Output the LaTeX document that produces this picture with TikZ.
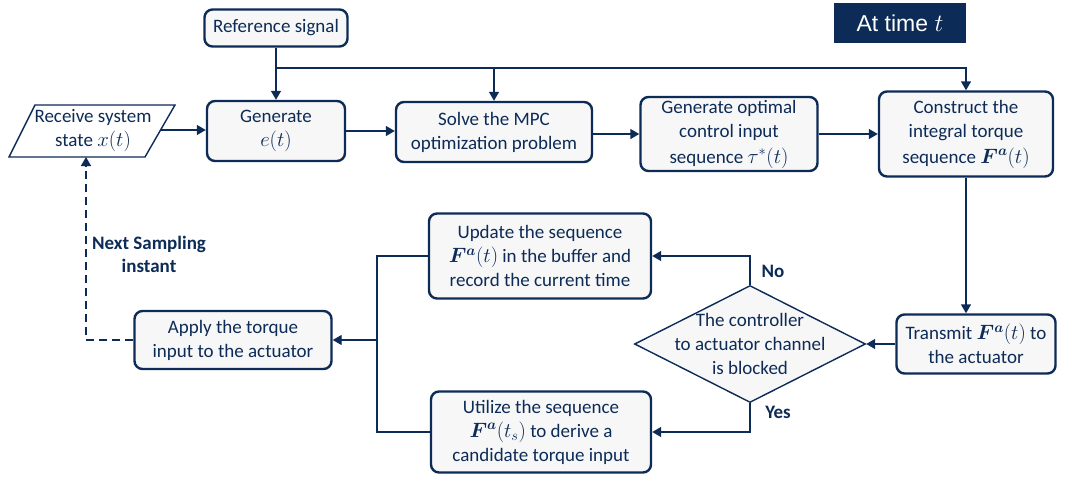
\documentclass[tikz,border=0pt]{standalone}
\usepackage{fontspec}
\setmainfont{Carlito}
\newfontfamily\headfont{Liberation Sans}
\usepackage{bm}
\usetikzlibrary{arrows.meta,shapes.geometric}
\definecolor{navy}{HTML}{0C2B57}
\definecolor{boxfill}{HTML}{F7F7F7}
% inline math set a little larger than the surrounding text
\newcommand{\mth}[1]{{\fontsize{21}{24}\selectfont$#1$}}
\newcommand{\Fa}{\bm{F}^{\bm{a}}}
\tikzset{
  box/.style={draw=navy, line width=2.4pt, rounded corners=8pt, fill=boxfill,
    align=center, text=navy, inner sep=0pt},
  conn/.style={draw=navy, line width=1.4pt},
  arr/.style={conn, -{Triangle[length=9pt,width=10pt]}},
  lbl/.style={text=navy, font=\fontsize{19}{23}\selectfont\bfseries, align=center},
}
\begin{document}
\begin{tikzpicture}[x=1pt, y=-1pt, font=\fontsize{19}{24}\selectfont]
\useasboundingbox (0,0) rectangle (1071,477);

% header tag
\node[fill=navy, text=white, minimum width=132pt, minimum height=40pt, inner sep=0pt,
  font=\headfont\fontsize{23}{28}\selectfont] (tag) at (900,23) {At time $t$};

% input parallelogram
\draw[navy, line width=1.4pt, fill=white] (35,105) -- (175,105) -- (145,157) -- (9,157) -- cycle;
\node[align=center, text=navy, inner sep=0pt] (recv) at (93,131) {Receive system\\state \mth{x(t)}};
\coordinate (recvE) at (161,130);
\coordinate (recvS) at (86,157);

% top row
\node[box, minimum width=143pt, minimum height=37pt] (ref) at (276,28) {Reference signal};
\node[box, minimum width=138pt, minimum height=60pt] (gen) at (276,131) {Generate\\\mth{e(t)}};
\node[box, minimum width=196pt, minimum height=60pt] (mpc) at (494,132) {Solve the MPC\\optimization problem};
\node[box, minimum width=177pt, minimum height=74pt] (opt) at (729,134) {Generate optimal\\control input\\[2pt]sequence \mth{\tau^{*}(t)}};
\node[box, minimum width=174pt, minimum height=85pt] (cons) at (966,134) {Construct the\\integral torque\\[2pt]sequence \mth{\Fa(t)}};

% lower part
\node[box, minimum width=159pt, minimum height=59pt] (trans) at (976,344) {Transmit \mth{\Fa(t)} to\\the actuator};
\node[diamond, draw=navy, line width=1.4pt, fill=boxfill, minimum width=231pt,
  minimum height=117pt, inner sep=0pt] (dec) at (750,344) {};
\node[align=center, text=navy, inner sep=0pt] (dectxt) at (dec.center) {The controller\\to actuator channel\\is blocked};
\node[box, minimum width=222pt, minimum height=85pt] (upd) at (540,256) {Update the sequence\\\mth{\Fa(t)} in the buffer and\\record the current time};
\node[box, minimum width=220pt, minimum height=81pt] (uti) at (541,432) {Utilize the sequence\\\mth{\Fa(t_s)} to derive a\\candidate torque input};
\node[box, minimum width=197pt, minimum height=58pt] (app) at (233,340) {Apply the torque\\input to the actuator};

% labels
\node[lbl] (no) at (773,271) {No};
\node[lbl] (yes) at (778,412) {Yes};
\node[lbl] (next) at (149,254) {Next Sampling\\instant};

% reference distribution
\coordinate (split) at (276,68);
\draw[arr] (ref.south) -- (gen.north);
\draw[arr] (split) -| (cons.north);
\draw[arr] (split -| mpc.north) -- (mpc.north);

% main chain
\draw[arr] (recvE) -- (recvE -| gen.west);
\draw[arr] (gen.east) -- (gen.east -| mpc.west);
\draw[arr] (mpc.east |- opt.west) -- (opt.west);
\draw[arr] (opt.east) -- (cons.west);
\draw[arr] (cons.south) -- (cons.south |- trans.north);
\draw[arr] (trans.west) -- (dec.east);
\draw[arr] (dec.north) |- (upd.east);
\draw[arr] (dec.south) |- (uti.east);

% merge into the actuator
\coordinate (merge) at (377,340);
\draw[conn] (upd.west) -| (merge);
\draw[conn] (uti.west) -| (merge);
\draw[arr] (merge) -- (app.east);

% feedback to the next sample
\draw[arr, dash pattern=on 8pt off 5pt] (app.west) -| (recvS);
\end{tikzpicture}
\end{document}
